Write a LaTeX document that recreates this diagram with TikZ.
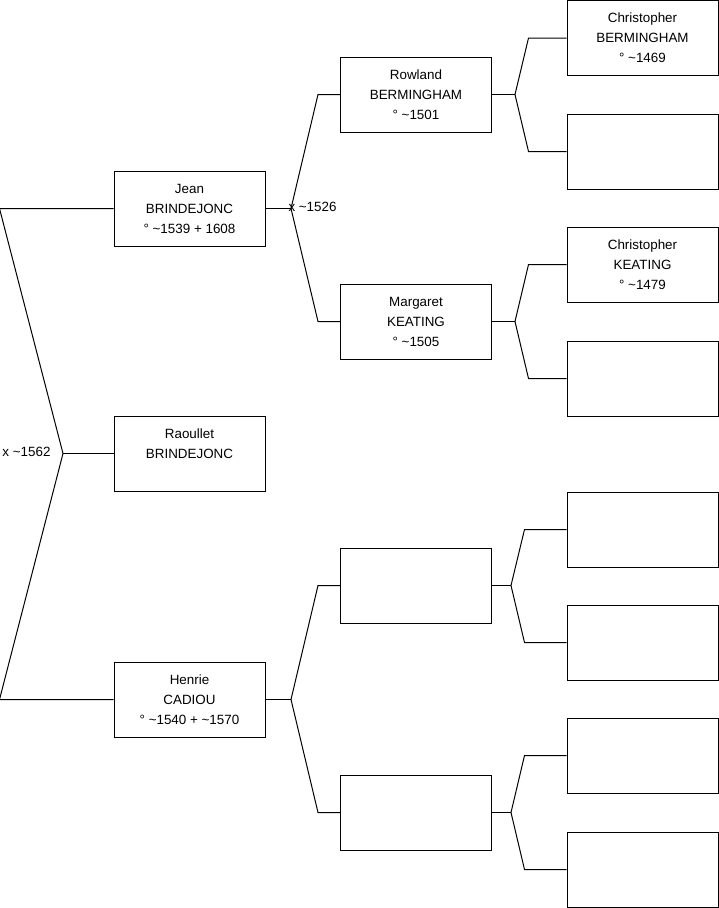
\documentclass[tikz,border=0pt]{standalone}
\usepackage{fontspec}
\setmainfont{Liberation Sans}
\usepackage{tikz}
\newcommand{\tld}{\textasciitilde}

\begin{document}
\begin{tikzpicture}[x=1pt, y=-1pt, line width=1pt,
    person/.style={draw, minimum width=151pt, minimum height=75pt, inner sep=0pt,
        align=center, font=\fontsize{13.4}{20}\selectfont},
    mariage/.style={inner sep=0pt, font=\fontsize{13.4}{20}\selectfont}]
        \useasboundingbox (0,0) rectangle (719,908);
        % generation 1
        \node[person] (jean) at (189.5,208.5) {Jean\\BRINDEJONC\\° \tld1539 + 1608};
        \node[person] (raoullet) at (189.5,453.5) {Raoullet\\BRINDEJONC\\\mbox{}};
        \node[person] (henrie) at (189.5,699.5) {Henrie\\CADIOU\\° \tld1540 + \tld1570};
        % generation 2
        \node[person] (rowland) at (416,94.5) {Rowland\\BERMINGHAM\\° \tld1501};
        \node[person] (margaret) at (416,321.5) {Margaret\\KEATING\\° \tld1505};
        \node[person] (pere3) at (416,585.5) {};
        \node[person] (mere3) at (416,812.5) {};
        % generation 3
        \node[person] (chrisb) at (642.5,38) {Christopher\\BERMINGHAM\\° \tld1469};
        \node[person] (mereb) at (642.5,151.5) {};
        \node[person] (chrisk) at (642.5,264.5) {Christopher\\KEATING\\° \tld1479};
        \node[person] (merek) at (642.5,378.5) {};
        \node[person] (p5) at (642.5,529.5) {};
        \node[person] (p6) at (642.5,642.5) {};
        \node[person] (p7) at (642.5,755.5) {};
        \node[person] (p8) at (642.5,869.5) {};

        % forks
        \coordinate (froot) at (63,453.5);
        \coordinate (fjean) at (291,208.5);
        \coordinate (fhenrie) at (291,699.5);
        \coordinate (frow) at (515,94.5);
        \coordinate (fmar) at (515,321.5);
        \coordinate (fp3) at (511,585.5);
        \coordinate (fm3) at (511,812.5);

        \draw (jean.west) -- ++(-114,0) -- (froot) -- ([xshift=-114pt]henrie.west) -- (henrie.west);
        \draw (froot) -- (raoullet.west);
        \node[mariage, anchor=east] (mroot) at (51,452) {x \tld1562};

        \draw (jean.east) -- (fjean);
        \draw (rowland.west) -- ++(-22,0) -- (fjean) -- ([xshift=-22pt]margaret.west) -- (margaret.west);
        \node[mariage, anchor=west] (mjean) at (288,207) {x \tld1526};

        \draw (henrie.east) -- (fhenrie);
        \draw (pere3.west) -- ++(-22,0) -- (fhenrie) -- ([xshift=-22pt]mere3.west) -- (mere3.west);

        \draw (rowland.east) -- (frow);
        \draw (chrisb.west) -- ++(-38,0) -- (frow) -- ([xshift=-38pt]mereb.west) -- (mereb.west);
        \draw (margaret.east) -- (fmar);
        \draw (chrisk.west) -- ++(-38,0) -- (fmar) -- ([xshift=-38pt]merek.west) -- (merek.west);
        \draw (pere3.east) -- (fp3);
        \draw (p5.west) -- ++(-42,0) -- (fp3) -- ([xshift=-42pt]p6.west) -- (p6.west);
        \draw (mere3.east) -- (fm3);
        \draw (p7.west) -- ++(-42,0) -- (fm3) -- ([xshift=-42pt]p8.west) -- (p8.west);
    \end{tikzpicture}
\end{document}
